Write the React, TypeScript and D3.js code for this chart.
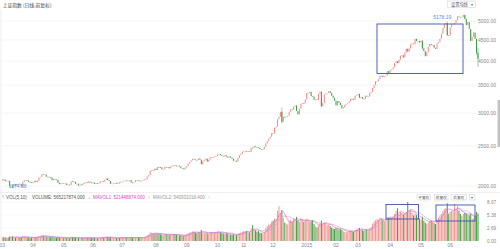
import React from 'react';
import * as d3 from 'd3';

const W = 500;
const H = 249;

const monthLabels = ['03', '04', '05', '06', '07', '08', '09', '10', '11', '12', '2015', '02', '03', '04', '05', '06'];
const monthDays = [21, 21, 20, 20, 23, 21, 21, 18, 20, 23, 20, 15, 22, 21, 20, 20];

const firstOpen = 2062;
const closes = [
  // 2014-03
  2075, 2071, 2053, 2060, 2057, 1999, 2001, 1997, 2019, 2004, 2024, 2025, 2021, 1993, 2047, 2066, 2067, 2063, 2046, 2041, 2033,
  // 04
  2047, 2059, 2043, 2058, 2098, 2105, 2134, 2130, 2131, 2105, 2106, 2099, 2097, 2066, 2079, 2074, 2068, 2036, 2020, 2032, 2034,
  // 05
  2027, 2028, 2010, 2015, 2011, 2052, 2051, 2047, 2025, 2026, 2005, 2008, 2024, 2021, 2035, 2041, 2034, 2050, 2040, 2039,
  // 06
  2038, 2024, 2030, 2029, 2030, 2052, 2054, 2050, 2070, 2087, 2066, 2056, 2024, 2026, 2034, 2035, 2025, 2038, 2036, 2048,
  // 07
  2050, 2060, 2063, 2059, 2059, 2067, 2039, 2038, 2046, 2066, 2067, 2060, 2055, 2059, 2065, 2076, 2076, 2107, 2126, 2178, 2183, 2182, 2201,
  // 08
  2185, 2223, 2221, 2219, 2194, 2194, 2224, 2220, 2222, 2206, 2226, 2240, 2245, 2240, 2230, 2240, 2229, 2207, 2207, 2195, 2217,
  // 09
  2236, 2266, 2288, 2306, 2326, 2318, 2312, 2311, 2331, 2315, 2256, 2295, 2315, 2329, 2290, 2316, 2344, 2345, 2347, 2357, 2364,
  // 10
  2382, 2389, 2374, 2366, 2359, 2374, 2356, 2341, 2357, 2340, 2326, 2302, 2302, 2290, 2337, 2373, 2391, 2420,
  // 11
  2430, 2431, 2419, 2425, 2418, 2473, 2469, 2494, 2485, 2478, 2474, 2456, 2451, 2452, 2487, 2532, 2567, 2604, 2630, 2683,
  // 12
  2680, 2763, 2779, 2899, 2937, 3020, 2856, 2940, 2925, 2938, 2953, 3021, 3061, 3057, 3108, 3128, 3032, 2977, 3073, 3157, 3168, 3165, 3235,
  // 2015-01
  3351, 3352, 3374, 3294, 3285, 3229, 3235, 3222, 3336, 3376, 3116, 3173, 3323, 3343, 3351, 3383, 3353, 3305, 3263, 3210,
  // 02
  3128, 3204, 3175, 3136, 3076, 3095, 3141, 3157, 3173, 3203, 3247, 3246, 3229, 3298, 3310,
  // 03
  3336, 3263, 3280, 3248, 3241, 3302, 3286, 3290, 3349, 3373, 3449, 3502, 3577, 3582, 3617, 3688, 3691, 3661, 3682, 3691, 3786, 3748,
  // 04
  3810, 3825, 3864, 3961, 3995, 3957, 4034, 4121, 4135, 4084, 4194, 4287, 4217, 4293, 4398, 4414, 4394, 4527, 4476, 4476, 4441,
  // 05
  4480, 4298, 4229, 4112, 4205, 4333, 4401, 4375, 4378, 4308, 4284, 4418, 4446, 4529, 4658, 4814, 4910, 4941, 4620, 4611,
  // 06
  4828, 4910, 4910, 4947, 5023, 5131, 5113, 5106, 5121, 5166, 5062, 4887, 4967, 4786, 4478, 4577, 4691, 4527, 4192, 4053,
];

// [day index, high, low] for days with visible shadows
const wicks: [number, number, number][] = [
  [7, 2010, 1974.38],
  [191, 3091, 2835],
  [218, 3250, 3096],
  [287, 4488, 4270],
  [304, 4986, 4604],
  [315, 5178.19, 5103],
  [316, 5176, 5048],
  [320, 4744, 4476],
  [324, 4479, 4139],
  [325, 4297, 3875],
];

// volume, unit 1e8
const volumes = [
  0.75, 0.8, 0.78, 0.7, 0.65, 0.9, 0.8, 0.95, 0.85, 0.7, 0.75, 0.72, 0.7, 0.78, 0.95, 0.92, 0.85, 0.75, 0.72, 0.68, 0.7,
  0.72, 0.78, 0.75, 0.8, 1.05, 1.0, 1.2, 1.1, 1.0, 0.95, 0.85, 0.8, 0.78, 0.85, 0.8, 0.72, 0.7, 0.78, 0.8, 0.7, 0.65,
  0.62, 0.6, 0.65, 0.6, 0.62, 0.85, 0.8, 0.72, 0.7, 0.62, 0.65, 0.6, 0.68, 0.62, 0.65, 0.7, 0.68, 0.72, 0.65, 0.62,
  0.6, 0.65, 0.62, 0.58, 0.6, 0.75, 0.78, 0.72, 0.8, 0.9, 0.82, 0.75, 0.78, 0.68, 0.65, 0.62, 0.6, 0.65, 0.62, 0.7,
  0.72, 0.8, 0.78, 0.75, 0.7, 0.75, 0.72, 0.65, 0.68, 0.8, 0.78, 0.75, 0.7, 0.68, 0.72, 0.85, 0.9, 1.2, 1.35, 1.8, 1.7, 1.55, 1.6,
  1.55, 1.65, 1.5, 1.4, 1.35, 1.2, 1.4, 1.35, 1.3, 1.25, 1.3, 1.4, 1.45, 1.35, 1.25, 1.2, 1.15, 1.2, 1.1, 1.05, 1.15,
  1.35, 1.6, 1.75, 1.85, 2.0, 1.9, 1.75, 1.7, 1.85, 1.8, 2.3, 1.7, 1.6, 1.75, 1.6, 1.5, 1.8, 1.85, 1.75, 1.7, 1.8,
  1.95, 2.0, 1.8, 1.7, 1.55, 1.5, 1.65, 1.5, 1.4, 1.35, 1.3, 1.35, 1.2, 1.25, 1.45, 1.6, 1.75, 1.9,
  2.05, 1.95, 2.1, 1.8, 1.75, 2.6, 3.3, 2.5, 2.2, 1.95, 2.1, 1.75, 1.65, 1.55, 1.9, 2.7, 3.1, 3.4, 3.5, 4.0,
  4.2, 4.6, 4.5, 6.2, 7.2, 5.8, 6.4, 4.8, 3.8, 3.6, 3.4, 4.1, 4.4, 4.0, 4.7, 4.6, 5.0, 4.3, 3.9, 4.6, 4.4, 4.0, 4.2,
  4.5, 4.2, 4.0, 4.1, 4.3, 3.5, 3.0, 2.8, 3.2, 3.6, 4.2, 3.6, 3.8, 3.7, 3.3, 3.4, 3.1, 2.8, 2.6, 2.5,
  2.7, 2.6, 2.4, 2.5, 2.3, 2.0, 1.9, 1.8, 1.85, 2.1, 2.2, 2.0, 1.9, 2.3, 2.4,
  2.6, 2.7, 2.4, 2.3, 2.1, 2.4, 2.3, 2.2, 2.6, 2.9, 3.6, 4.0, 4.3, 4.5, 4.4, 4.8, 4.7, 4.4, 4.1, 4.2, 5.0, 4.9,
  5.1, 4.8, 5.0, 5.6, 6.2, 6.8, 5.6, 6.0, 5.8, 5.5, 5.6, 5.9, 8.07, 6.2, 6.5, 5.8, 5.3, 5.6, 5.4, 4.9, 4.7,
  4.4, 5.0, 4.2, 3.8, 3.6, 3.8, 4.2, 4.3, 4.0, 3.7, 3.5, 4.4, 4.8, 5.3, 5.6, 6.2, 6.6, 6.8, 7.8, 5.6,
  6.0, 6.2, 6.1, 7.7, 6.6, 7.2, 6.3, 5.6, 5.2, 5.6, 5.9, 5.7, 5.5, 5.34, 5.6, 4.6, 4.7, 5.1, 6.0, 5.65,
];

const priceTicks = [2000, 2500, 3000, 3500, 4000, 4500, 5000];
const volTicks = [0, 2.69, 5.38, 8.07];

const UP = '#ef8e8a';
const DOWN = '#449a48';
const BLUE = '#3f51b5';
const NUM_FONT = "'Liberation Sans', Arial, sans-serif";
const CJK_FONT = "'Noto Sans CJK SC', 'Noto Sans', sans-serif";

function movingAvg(arr: number[], n: number): (number | null)[] {
  return arr.map((_, i) => (i < n - 1 ? null : (d3.sum(arr.slice(i - n + 1, i + 1)) / n)));
}

export default function App() {
  const N = closes.length;
  const x = d3.scaleLinear().domain([0, N - 1]).range([2.3, 478]);
  const y = d3.scaleLog().domain([2000, 5000]).range([186, 21]);
  const vy = d3.scaleLinear().domain([0, 8.07]).range([241, 202]);

  const opens = closes.map((c, i) => (i === 0 ? firstOpen : closes[i - 1]));
  const wickMap = new Map<number, [number, number]>();
  wicks.forEach(([i, h, l]) => wickMap.set(i, [h, l]));

  const monthStarts: number[] = [];
  let acc = 0;
  monthDays.forEach((d) => {
    monthStarts.push(acc);
    acc += d;
  });

  const ma5 = movingAvg(volumes, 5);
  const ma10 = movingAvg(volumes, 10);
  const lineGen = d3
    .line<number | null>()
    .defined((d) => d !== null)
    .x((_, i) => x(i))
    .y((d) => vy(d as number));

  const bw = 1.05;

  let maxI = 0;
  let minI = 0;
  const highs = closes.map((c, i) => (wickMap.get(i)?.[0] ?? Math.max(c, opens[i])));
  const lows = closes.map((c, i) => (wickMap.get(i)?.[1] ?? Math.min(c, opens[i])));
  highs.forEach((h, i) => {
    if (h > highs[maxI]) maxI = i;
  });
  lows.forEach((l, i) => {
    if (l < lows[minI]) minI = i;
  });

  return (
    <svg
      width={W}
      height={H}
      style={{ position: 'fixed', left: 0, top: 0, background: '#fff', display: 'block' }}
      fontFamily={NUM_FONT}
    >
      <rect x={0} y={0} width={W} height={H} fill="#fff" />
      {/* frame lines */}
      <line x1={1} x2={1} y1={9} y2={242} stroke="#e2e2e2" strokeWidth={0.6} />
      <line x1={0} x2={500} y1={192.5} y2={192.5} stroke="#e6e6e6" strokeWidth={0.6} />
      <rect x={497.5} y={100} width={2.5} height={47} fill="#c4c4c4" />

      {/* title */}
      <text x={2.7} y={7} fontSize={4.8} fill="#444" fontFamily={CJK_FONT}>
        上证指数 (日线,前复权)
      </text>
      <rect x={447.5} y={1} width={28} height={6.5} fill="#fff" stroke="#cfcfcf" strokeWidth={0.5} />
      <text x={451} y={5.9} fontSize={4.2} fill="#555" fontFamily={CJK_FONT}>
        设置均线
      </text>
      <text x={470.6} y={5.9} fontSize={4} fill="#666">▾</text>

      {/* price grid */}
      {priceTicks.map((t) => (
        <g key={t}>
          <line x1={2} x2={478} y1={y(t)} y2={y(t)} stroke="#eeeeee" strokeWidth={0.6} />
          <text x={496} y={y(t) + 1.7} fontSize={5} fill="#888" textAnchor="end">
            {t.toFixed(2)}
          </text>
        </g>
      ))}

      {/* candles */}
      {closes.map((c, i) => {
        const o = opens[i];
        const up = c >= o;
        const col = up ? UP : DOWN;
        const top = y(Math.max(o, c));
        const bot = y(Math.min(o, c));
        const w = wickMap.get(i);
        return (
          <g key={i}>
            {w && (
              <line x1={x(i)} x2={x(i)} y1={y(w[0])} y2={y(w[1])} stroke={col} strokeWidth={0.5} />
            )}
            <rect x={x(i) - bw / 2} y={top} width={bw} height={Math.max(bot - top, 0.7)} fill={col} />
          </g>
        );
      })}

      {/* extreme labels */}
      <text x={x(maxI) - 12} y={18.5} fontSize={5} fill="#5b8fd6" textAnchor="end">
        {highs[maxI].toFixed(2)}
      </text>
      <text x={x(minI) - 4} y={187.5} fontSize={5} fill="#5b8fd6">
        {lows[minI].toFixed(2)}
      </text>

      {/* highlight box on price */}
      <rect x={377} y={24} width={86} height={49.5} fill="none" stroke={BLUE} strokeWidth={0.9} />

      {/* volume header */}
      <g fontSize={4.5}>
        <text x={2} y={198.6} fill="#777">ᵀ</text>
        <text x={6} y={198.6} fill="#555">VOL(5,10)</text>
        <text x={32} y={198.6} fill="#555">VOLUME: 565217874.000</text>
        <text x={88} y={198.6} fill="#3a9a3a">↓</text>
        <text x={93} y={198.6} fill="#e040d8">MAVOL1: 521448874.000</text>
        <text x={148} y={198.6} fill="#e04a4a">↑</text>
        <text x={153} y={198.6} fill="#999">MAVOL2: 540931018.400</text>
        <text x={208} y={198.6} fill="#e04a4a">↑</text>
      </g>

      {/* volume grid + labels */}
      {volTicks.map((t) => (
        <g key={t}>
          {t > 0 && <line x1={2} x2={478} y1={vy(t)} y2={vy(t)} stroke="#f0f0f0" strokeWidth={0.5} />}
          <text x={496} y={vy(t) + 1.5} fontSize={4.6} fill="#888" textAnchor="end">
            {t.toFixed(2)}
          </text>
        </g>
      ))}

      {/* volume bars */}
      {volumes.map((v, i) => {
        const up = closes[i] >= opens[i];
        return (
          <rect
            key={i}
            x={x(i) - bw / 2}
            y={vy(v)}
            width={bw}
            height={vy(0) - vy(v)}
            fill={up ? '#f29a94' : '#4f9e4a'}
          />
        );
      })}
      <path d={lineGen(ma10) || ''} fill="none" stroke="#b9a9c9" strokeWidth={0.6} />
      <path d={lineGen(ma5) || ''} fill="none" stroke="#e35ade" strokeWidth={0.6} />

      {/* volume highlight boxes */}
      <rect x={386} y={204.5} width={32.5} height={14.5} fill="none" stroke={BLUE} strokeWidth={0.9} />
      <rect x={436} y={205} width={39} height={16} fill="none" stroke={BLUE} strokeWidth={0.9} />

      {/* adjust buttons */}
      {[
        { x: 417, w: 13.5, t: '不复权' },
        { x: 434.5, w: 13.5, t: '前复权' },
        { x: 451, w: 15.5, t: '后复权' },
      ].map((b) => (
        <g key={b.t}>
          <rect x={b.x} y={194.5} width={b.w} height={5.5} fill="#fff" stroke="#cfcfcf" strokeWidth={0.5} />
          <text x={b.x + b.w / 2} y={198.6} fontSize={3.7} fill="#555" textAnchor="middle" fontFamily={CJK_FONT}>
            {b.t}
          </text>
        </g>
      ))}
      <rect x={469.5} y={194.5} width={5.5} height={5.5} fill="#fff" stroke="#cfcfcf" strokeWidth={0.5} />
      <text x={472.2} y={198.6} fontSize={3.8} fill="#666" textAnchor="middle">▾</text>

      {/* x axis labels */}
      {monthLabels.map((m, k) => (
        <text key={k} x={x(monthStarts[k])} y={246.5} fontSize={5} fill="#888" textAnchor="middle">
          {m}
        </text>
      ))}
    </svg>
  );
}
